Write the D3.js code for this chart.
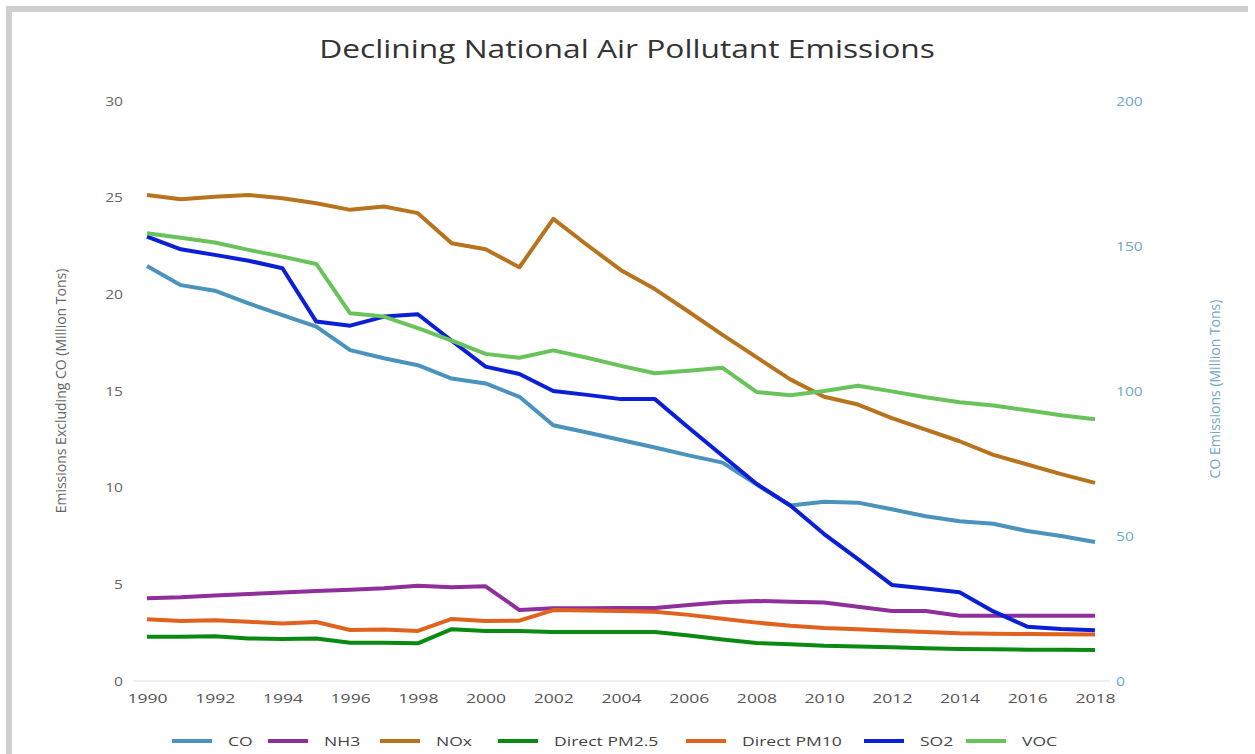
<!DOCTYPE html>
<html>
<head>
<meta charset="utf-8">
<script src="https://cdn.jsdelivr.net/npm/d3@7"></script>
<style>
body { margin: 0; background: #fff; }
text { font-family: "Open Sans", "Noto Sans", sans-serif; }
</style>
</head>
<body>
<svg id="chart" width="1255" height="754"></svg>
<script>

// data
var years = [1990,1991,1992,1993,1994,1995,1996,1997,1998,1999,2000,2001,2002,2003,2004,
             2005,2006,2007,2008,2009,2010,2011,2012,2013,2014,2015,2016,2017,2018]
var yearTicks = [1990,1992,1994,1996,1998,2000,2002,2004,2006,2008,2010,2012,2014,2016,2018]
var leftTicks = [0,5,10,15,20,25,30]
var rightTicks = [0,50,100,150,200]

// CO is on the right axis, everything else on the left
var co   = [143.1,136.5,134.6,130.2,126.2,122.2,114.1,111.3,108.9,104.3,102.6,98.0,88.2,85.7,83.1,
            80.5,77.8,75.3,67.8,60.5,61.8,61.5,59.2,56.8,55.1,54.2,51.7,50.0,47.9]
var nh3  = [4.28,4.33,4.42,4.5,4.58,4.65,4.72,4.8,4.93,4.85,4.9,3.67,3.76,3.76,3.77,
            3.78,3.93,4.07,4.14,4.1,4.06,3.84,3.62,3.62,3.37,3.37,3.37,3.37,3.37]
var nox  = [25.14,24.92,25.05,25.14,24.97,24.71,24.37,24.54,24.2,22.64,22.33,21.4,23.9,22.55,21.25,
            20.27,19.1,17.9,16.75,15.6,14.7,14.3,13.6,13.0,12.4,11.7,11.2,10.7,10.25]
var pm25 = [2.29,2.29,2.31,2.2,2.17,2.2,1.98,1.98,1.95,2.68,2.59,2.59,2.54,2.54,2.54,
            2.54,2.35,2.15,1.97,1.9,1.82,1.78,1.74,1.7,1.66,1.64,1.62,1.61,1.6]
var pm10 = [3.19,3.1,3.14,3.06,2.97,3.05,2.64,2.66,2.59,3.21,3.1,3.12,3.67,3.65,3.62,
            3.58,3.42,3.22,3.02,2.86,2.74,2.68,2.6,2.53,2.47,2.45,2.43,2.42,2.4]
var so2  = [22.99,22.33,22.04,21.74,21.35,18.59,18.38,18.85,18.97,17.6,16.26,15.88,15.0,14.8,14.58,
            14.58,13.1,11.65,10.2,9.08,7.6,6.3,4.97,4.78,4.59,3.6,2.81,2.69,2.62]
var voc  = [23.16,22.93,22.68,22.3,21.95,21.57,19.02,18.85,18.25,17.6,16.92,16.72,17.1,16.72,16.3,
            15.92,16.05,16.2,14.95,14.78,15.0,15.27,14.98,14.68,14.42,14.25,14.0,13.75,13.54]

var series = [
  {name: "CO", values: co, axis: "right", color: "#4a93bd"},
  {name: "NH3", values: nh3, axis: "left", color: "#8e2f9c"},
  {name: "NOx", values: nox, axis: "left", color: "#b7731d"},
  {name: "Direct PM2.5", values: pm25, axis: "left", color: "#0a8a12"},
  {name: "Direct PM10", values: pm10, axis: "left", color: "#e0621e"},
  {name: "SO2", values: so2, axis: "left", color: "#0b1fd6"},
  {name: "VOC", values: voc, axis: "left", color: "#68c35a"}
]

var svg = d3.select("#chart")

// grey frame like the screenshot
svg.append("rect").attr("x", 6).attr("y", 6).attr("width", 1242).attr("height", 748).attr("fill", "#cfcfcf")
svg.append("rect").attr("x", 12).attr("y", 12).attr("width", 1236).attr("height", 742).attr("fill", "#fff")

var x = d3.scaleLinear().domain([1990, 2018]).range([147, 1095])
var yL = d3.scaleLinear().domain([0, 30]).range([681, 101])
var yR = d3.scaleLinear().domain([0, 200]).range([681, 101])

// the screenshot is stretched sideways, so text gets a horizontal scale
svg.append("text")
  .attr("transform", "translate(627,58) scale(1.27,1)")
  .attr("text-anchor", "middle")
  .attr("font-size", 25).attr("fill", "#333")
  .text("Declining National Air Pollutant Emissions")

// baseline
svg.append("line")
  .attr("x1", 133).attr("x2", 1110)
  .attr("y1", yL(0)).attr("y2", yL(0))
  .attr("stroke", "#e0e0e0").attr("stroke-width", 1)

var leftAxis = svg.append("g")
  .attr("transform", "translate(123,0)")
  .call(d3.axisLeft(yL).tickValues(leftTicks).tickSize(0).tickPadding(0))
leftAxis.select(".domain").remove()
leftAxis.selectAll("text").attr("font-size", 13).attr("fill", "#666")
  .attr("transform", "scale(1.2,1)")
  .style("font-family", "'Open Sans', sans-serif")

var rightAxis = svg.append("g")
  .attr("transform", "translate(1116,0)")
  .call(d3.axisRight(yR).tickValues(rightTicks).tickSize(0).tickPadding(0))
rightAxis.select(".domain").remove()
rightAxis.selectAll("text").attr("font-size", 13).attr("fill", "#6fa8c8")
  .attr("transform", "scale(1.2,1)")
  .style("font-family", "'Open Sans', sans-serif")

var bottomAxis = svg.append("g")
  .attr("transform", "translate(0,694)")
  .call(d3.axisBottom(x).tickValues(yearTicks).tickFormat(d3.format("d")).tickSize(0).tickPadding(0))
bottomAxis.select(".domain").remove()
bottomAxis.selectAll("text").attr("font-size", 13).attr("fill", "#555")
  .attr("transform", "scale(1.35,1)")
  .style("font-family", "'Open Sans', sans-serif")

// axis titles
svg.append("text")
  .attr("transform", "translate(66,391) rotate(-90)")
  .attr("text-anchor", "middle")
  .attr("font-size", 14).attr("fill", "#666")
  .style("font-family", "'Liberation Sans Narrow', 'Open Sans', sans-serif")
  .text("Emissions Excluding CO (Million Tons)")

svg.append("text")
  .attr("transform", "translate(1220,389) rotate(-90)")
  .attr("text-anchor", "middle")
  .attr("font-size", 14).attr("fill", "#6fa8c8")
  .style("font-family", "'Liberation Sans Narrow', 'Open Sans', sans-serif")
  .text("CO Emissions (Million Tons)")

// lines
series.forEach(function(s){
  var yS = s.axis == "right" ? yR : yL
  var line = d3.line()
    .x(function(d, i){ return x(years[i]) })
    .y(function(d){ return yS(d) })
  svg.append("path")
    .datum(s.values)
    .attr("d", line)
    .attr("fill", "none")
    .attr("stroke", s.color)
    .attr("stroke-width", 4)
    .attr("stroke-linejoin", "round")
})

// legend
var legendX = [172, 268, 380, 498, 686, 864, 966]
var legend = svg.append("g")
series.forEach(function(s, i){
  var g = legend.append("g").attr("transform", "translate(" + legendX[i] + ",741)")
  g.append("line").attr("x1", 0).attr("x2", 40).attr("y1", 0).attr("y2", 0)
    .attr("stroke", s.color).attr("stroke-width", 4)
  g.append("text").attr("transform", "translate(56,5) scale(1.35,1)")
    .attr("font-size", 13).attr("fill", "#444")
    .text(s.name)
})

</script>
</body>
</html>
